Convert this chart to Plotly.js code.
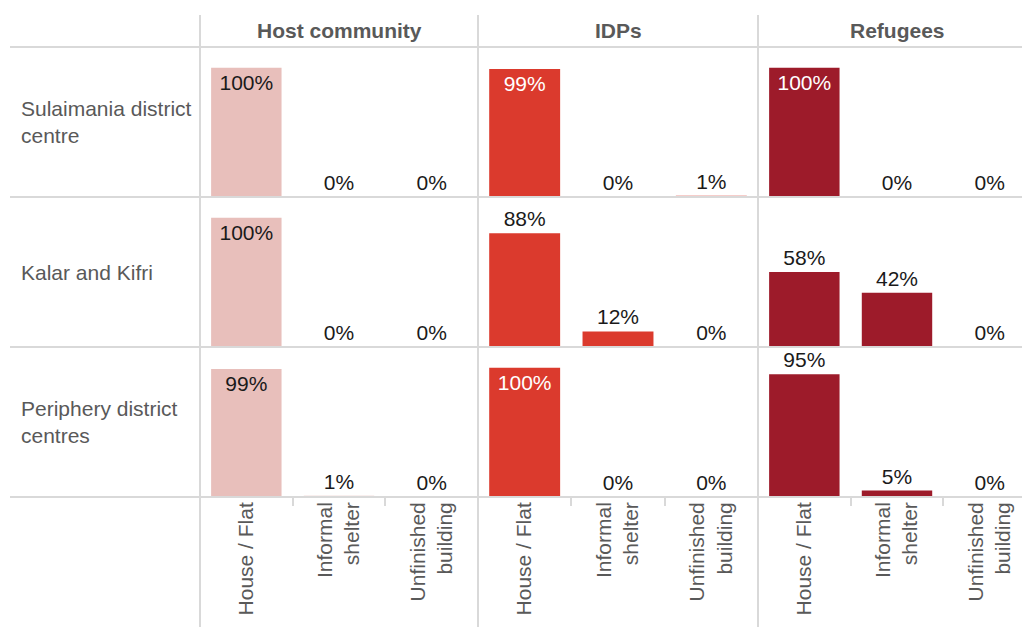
<!DOCTYPE html>
<html>
<head>
<meta charset="utf-8">
<script src="https://cdn.plot.ly/plotly-3.0.1.min.js"></script>
<style>html,body{margin:0;padding:0;background:#fff;}#chart{width:1022px;height:627px;}</style>
</head>
<body>
<div id="chart"></div>
<script>
// ---- data ----
var shelterTypes = ['House / Flat', 'Informal<br>shelter', 'Unfinished<br>building'];
var groups = ['Host community', 'IDPs', 'Refugees'];
var locations = ['Sulaimania district<br>centre', 'Kalar and Kifri', 'Periphery district<br>centres'];

var hostSulaimania = [100, 0, 0];
var hostKalar = [100, 0, 0];
var hostPeriphery = [99, 1, 0];
var idpSulaimania = [99, 0, 1];
var idpKalar = [88, 12, 0];
var idpPeriphery = [100, 0, 0];
var refSulaimania = [100, 0, 0];
var refKalar = [58, 42, 0];
var refPeriphery = [95, 5, 0];

var groupColors = ['#E8BFBB', '#DB3A2D', '#9D1B2A'];
var insideTextColors = ['#1a1a1a', '#ffffff', '#ffffff'];

var valuesByGroup = [
  [hostSulaimania, hostKalar, hostPeriphery],
  [idpSulaimania, idpKalar, idpPeriphery],
  [refSulaimania, refKalar, refPeriphery]
];

// ---- layout geometry (pixels) ----
var W = 1022, H = 627;
var FONT = 'Liberation Sans, Arial, Helvetica, sans-serif';
var GRAY = '#595959';
var LINE = '#d9d9d9';
function px(x) { return x / W; }
function py(y) { return 1 - y / H; }

var colEdges = [200, 478, 758, 1036];
var rowEdges = [47, 197, 347, 497];

var data = [];
var layout = {
  width: W, height: H,
  margin: {l: 0, r: 0, t: 0, b: 0},
  paper_bgcolor: '#ffffff', plot_bgcolor: 'rgba(0,0,0,0)',
  showlegend: false,
  bargap: 0.24,
  font: {family: FONT, color: GRAY},
  annotations: [], shapes: []
};

for (var r = 0; r < 3; r++) {
  for (var c = 0; c < 3; c++) {
    var n = r * 3 + c + 1;
    var vals = valuesByGroup[c][r];
    var xa = 'x' + (n === 1 ? '' : n), ya = 'y' + (n === 1 ? '' : n);
    data.push({
      type: 'bar',
      x: shelterTypes,
      y: vals,
      xaxis: xa, yaxis: ya,
      marker: {color: groupColors[c]},
      text: vals.map(function (v) { return v + '%'; }),
      textposition: vals.map(function (v) { return v >= 99 ? 'inside' : 'outside'; }),
      insidetextanchor: 'end',
      constraintext: 'none',
      cliponaxis: false,
      textfont: {family: FONT, size: 21},
      insidetextfont: {family: FONT, size: 21, color: insideTextColors[c]},
      outsidetextfont: {family: FONT, size: 21, color: '#1a1a1a'},
      hoverinfo: 'x+y'
    });
    var x0 = colEdges[c], x1 = Math.min(colEdges[c + 1], W);
    var unit = (colEdges[c + 1] - colEdges[c]) / 3;
    var rangeEnd = -0.5 + (x1 - x0) / unit;
    var isBottom = (r === 2);
    layout['xaxis' + (n === 1 ? '' : n)] = {
      type: 'category',
      domain: [px(x0), px(x1)],
      anchor: ya,
      range: [-0.5, rangeEnd],
      showgrid: false, zeroline: false, showline: false,
      showticklabels: isBottom,
      ticks: isBottom ? 'outside' : '',
      tickson: 'boundaries',
      ticklen: 8, tickwidth: 2, tickcolor: LINE,
      tickangle: -90,
      tickfont: {family: FONT, size: 21, color: GRAY},
      fixedrange: true
    };
    layout['yaxis' + (n === 1 ? '' : n)] = {
      domain: [py(rowEdges[r + 1]), py(rowEdges[r])],
      anchor: xa,
      range: [0, 116],
      visible: false,
      fixedrange: true
    };
  }
}

// header labels
for (var c2 = 0; c2 < 3; c2++) {
  layout.annotations.push({
    xref: 'paper', yref: 'paper',
    x: px((colEdges[c2] + colEdges[c2 + 1]) / 2), y: py(31),
    xanchor: 'center', yanchor: 'middle',
    text: '<b>' + groups[c2] + '</b>', showarrow: false,
    font: {family: FONT, size: 21, color: GRAY}
  });
}
// row labels
for (var r2 = 0; r2 < 3; r2++) {
  layout.annotations.push({
    xref: 'paper', yref: 'paper',
    x: px(19), y: py((rowEdges[r2] + rowEdges[r2 + 1]) / 2),
    xanchor: 'left', yanchor: 'middle', align: 'left',
    text: locations[r2], showarrow: false,
    font: {family: FONT, size: 21, color: GRAY}
  });
}
// horizontal separators
rowEdges.forEach(function (y) {
  layout.shapes.push({type: 'line', xref: 'paper', yref: 'paper',
    x0: px(10), x1: 1, y0: py(y), y1: py(y),
    line: {color: LINE, width: 2}, layer: 'above'});
});
// vertical separators
[200, 478, 758].forEach(function (x) {
  layout.shapes.push({type: 'line', xref: 'paper', yref: 'paper',
    x0: px(x), x1: px(x), y0: py(15), y1: 0,
    line: {color: LINE, width: 2}, layer: 'above'});
});

Plotly.newPlot('chart', data, layout, {displayModeBar: false, staticPlot: true});
</script>
</body>
</html>
